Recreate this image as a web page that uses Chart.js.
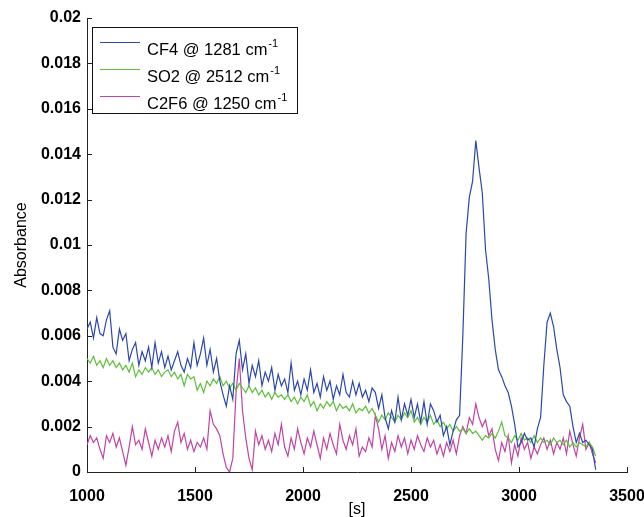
<!DOCTYPE html>
<html>
<head>
<meta charset="utf-8">
<script src="https://cdn.jsdelivr.net/npm/chart.js@4"></script>
<style>
  html, body { margin: 0; padding: 0; background: #fff; }
  #wrap { width: 644px; height: 517px; }
</style>
</head>
<body>
<div id="wrap"><canvas id="absChart" width="644" height="517"></canvas></div>
<script>
// sampling of the traces: start time and step [s]
const t0 = 1000;
const dt = 15;

const seriesNames = ['CF4 @ 1281 cm', 'SO2 @ 2512 cm', 'C2F6 @ 1250 cm'];
const seriesSup = ['-1', '-1', '-1'];

const cf4 = [
  0.0063, 0.0066, 0.0059, 0.0068, 0.0061, 0.0060, 0.0067, 0.0071, 0.0055, 0.0052,
  0.0063, 0.0058, 0.0061, 0.0049, 0.0054, 0.0057, 0.0047, 0.0053, 0.0049, 0.0055,
  0.0046, 0.0057, 0.0048, 0.0053, 0.0046, 0.0051, 0.0045, 0.0049, 0.0053, 0.0047,
  0.0044, 0.0050, 0.0046, 0.0057, 0.0047, 0.0052, 0.0059, 0.0047, 0.0054, 0.0044,
  0.0050, 0.0040, 0.0034, 0.0029, 0.0038, 0.0032, 0.0052, 0.0058, 0.0045, 0.0052,
  0.0039, 0.0047, 0.0042, 0.0049, 0.0038, 0.0044, 0.0040, 0.0046, 0.0036, 0.0043,
  0.0038, 0.0041, 0.0035, 0.0048, 0.0036, 0.0040, 0.0034, 0.0041, 0.0036, 0.0045,
  0.0035, 0.0039, 0.0033, 0.0042, 0.0036, 0.0040, 0.0032, 0.0038, 0.0034, 0.0043,
  0.0035, 0.0033, 0.0040, 0.0034, 0.0039, 0.0033, 0.0036, 0.0031, 0.0037, 0.0035,
  0.0028, 0.0034, 0.0024, 0.0019, 0.0027, 0.0022, 0.0033, 0.0023, 0.0030, 0.0025,
  0.0032, 0.0024, 0.0030, 0.0022, 0.0031, 0.0021, 0.0030, 0.0027, 0.0022, 0.0025,
  0.0016, 0.0020, 0.0012, 0.0018, 0.0023, 0.0025, 0.0060, 0.0105, 0.0121, 0.0128,
  0.0146, 0.0134, 0.0123, 0.0098, 0.0085, 0.0067, 0.0054, 0.0045, 0.0042, 0.0038,
  0.0035, 0.0029, 0.0021, 0.0011, 0.0013, 0.0017, 0.0014, 0.0015, 0.0011, 0.0019,
  0.0024, 0.0047, 0.0066, 0.0070, 0.0064, 0.0054, 0.0046, 0.0034, 0.0031, 0.0029,
  0.0020, 0.0013, 0.0017, 0.0013, 0.0014, 0.0012, 0.0010, 0.0001
];

const so2 = [
  0.0050, 0.0048, 0.0051, 0.0047, 0.0049, 0.0046, 0.0050, 0.0047, 0.0049, 0.0046,
  0.0048, 0.0045, 0.0047, 0.0044, 0.0048, 0.0042, 0.0045, 0.0043, 0.0046, 0.0044,
  0.0046, 0.0043, 0.0045, 0.0042, 0.0044, 0.0045, 0.0042, 0.0044, 0.0041, 0.0043,
  0.0038, 0.0043, 0.0041, 0.0042, 0.0036, 0.0039, 0.0035, 0.0040, 0.0038, 0.0041,
  0.0039, 0.0042, 0.0038, 0.0040, 0.0037, 0.0039, 0.0036, 0.0039, 0.0037, 0.0035,
  0.0038, 0.0035, 0.0037, 0.0034, 0.0036, 0.0033, 0.0035, 0.0032, 0.0035, 0.0033,
  0.0034, 0.0032, 0.0034, 0.0031, 0.0033, 0.0030, 0.0033, 0.0031, 0.0034, 0.0029,
  0.0031, 0.0027, 0.0030, 0.0028, 0.0031, 0.0029, 0.0031, 0.0027, 0.0030, 0.0028,
  0.0029, 0.0027, 0.0030, 0.0026, 0.0028, 0.0027, 0.0029, 0.0026, 0.0028, 0.0025,
  0.0022, 0.0025, 0.0023, 0.0026, 0.0024, 0.0022, 0.0025, 0.0023, 0.0026, 0.0024,
  0.0027, 0.0022, 0.0024, 0.0021, 0.0024, 0.0022, 0.0025, 0.0021, 0.0023, 0.0020,
  0.0022, 0.0019, 0.0021, 0.0018, 0.0020, 0.0018, 0.0019, 0.0017, 0.0019, 0.0017,
  0.0018, 0.0016, 0.0014, 0.0016, 0.0015, 0.0017, 0.0015, 0.0018, 0.0022, 0.0016,
  0.0015, 0.0013, 0.0016, 0.0014, 0.0017, 0.0014, 0.0015, 0.0013, 0.0016, 0.0013,
  0.0015, 0.0013, 0.0014, 0.0012, 0.0015, 0.0013, 0.0014, 0.0012, 0.0014, 0.0011,
  0.0013, 0.0011, 0.0013, 0.0012, 0.0011, 0.0013, 0.0011, 0.0007
];

const c2f6 = [
  0.0012, 0.0016, 0.0013, 0.0015, 0.0010, 0.0006, 0.0016, 0.0013, 0.0017, 0.0011,
  0.0015, 0.0009, 0.0003, 0.0011, 0.0020, 0.0012, 0.0014, 0.0010, 0.0019, 0.0013,
  0.0007, 0.0014, 0.0010, 0.0015, 0.0011, 0.0016, 0.0009, 0.0018, 0.0022, 0.0013,
  0.0017, 0.0010, 0.0014, 0.0009, 0.0013, 0.0011, 0.0015, 0.0010, 0.0027, 0.0021,
  0.0019, 0.0016, 0.0008, 0.0002, 0.0000, 0.0006, 0.0035, 0.0050, 0.0027, 0.0015,
  0.0006, 0.0001, 0.0018, 0.0012, 0.0016, 0.0010, 0.0014, 0.0009, 0.0017, 0.0012,
  0.0021, 0.0011, 0.0007, 0.0015, 0.0010, 0.0019, 0.0013, 0.0008, 0.0015, 0.0011,
  0.0018, 0.0012, 0.0006, 0.0015, 0.0010, 0.0017, 0.0012, 0.0008, 0.0021, 0.0014,
  0.0010, 0.0016, 0.0012, 0.0019, 0.0007, 0.0011, 0.0009, 0.0015, 0.0011, 0.0025,
  0.0019, 0.0010, 0.0016, 0.0006, 0.0013, 0.0009, 0.0016, 0.0011, 0.0015, 0.0008,
  0.0014, 0.0010, 0.0016, 0.0012, 0.0009, 0.0015, 0.0011, 0.0014, 0.0008, 0.0012,
  0.0007, 0.0013, 0.0009, 0.0014, 0.0008, 0.0016, 0.0020, 0.0017, 0.0024, 0.0021,
  0.0030, 0.0024, 0.0020, 0.0023, 0.0016, 0.0019, 0.0010, 0.0005, 0.0013, 0.0009,
  0.0016, 0.0004, 0.0012, 0.0007, 0.0015, 0.0010, 0.0013, 0.0006, 0.0011, 0.0008,
  0.0012, 0.0015, 0.0010, 0.0014, 0.0008, 0.0013, 0.0010, 0.0015, 0.0008, 0.0018,
  0.0012, 0.0007, 0.0015, 0.0021, 0.0010, 0.0013, 0.0008, 0.0004
];

const xTicks = [1000, 1500, 2000, 2500, 3000, 3500];
const xTickLabels = ['1000', '1500', '2000', '2500', '3000', '3500'];
const yTickLabels = ['0', '0.002', '0.004', '0.006', '0.008', '0.01', '0.012', '0.014', '0.016', '0.018', '0.02'];

const colors = ['#2b48aa', '#5cbf3a', '#c043a6'];

function toPoints(arr) {
  return arr.map((v, i) => ({ x: t0 + i * dt, y: v }));
}

const FONT = "'Liberation Sans', Arial, sans-serif";

// matlab-like inward ticks
const inwardTicks = {
  id: 'inwardTicks',
  afterDraw(chart) {
    const ctx = chart.ctx;
    const xs = chart.scales.x, ys = chart.scales.y;
    const area = chart.chartArea;
    ctx.save();
    ctx.strokeStyle = '#222';
    ctx.lineWidth = 1;
    ctx.beginPath();
    xs.ticks.forEach(t => {
      const px = Math.round(xs.getPixelForValue(t.value)) + 0.5;
      ctx.moveTo(px, area.bottom);
      ctx.lineTo(px, area.bottom - 5);
    });
    ys.ticks.forEach(t => {
      const py = Math.round(ys.getPixelForValue(t.value)) + 0.5;
      ctx.moveTo(area.left, py);
      ctx.lineTo(area.left + 5, py);
    });
    ctx.stroke();
    ctx.restore();
  }
};

// legend box with superscripts
const boxLegend = {
  id: 'boxLegend',
  afterDraw(chart) {
    const ctx = chart.ctx;
    const bx = 92.5, by = 27.5, bw = 205, bh = 86;
    ctx.save();
    ctx.fillStyle = '#fff';
    ctx.fillRect(bx, by, bw, bh);
    ctx.strokeStyle = '#111';
    ctx.lineWidth = 1;
    ctx.strokeRect(bx, by, bw, bh);
    chart.data.datasets.forEach((ds, i) => {
      const ly = 42.5 + i * 27;
      ctx.strokeStyle = ds.borderColor;
      ctx.beginPath();
      ctx.moveTo(100, ly);
      ctx.lineTo(140, ly);
      ctx.stroke();
      ctx.fillStyle = '#000';
      ctx.font = '16.5px ' + FONT;
      ctx.textBaseline = 'alphabetic';
      ctx.textAlign = 'left';
      const base = ly + 12;
      ctx.fillText(seriesNames[i], 147, base);
      const w = ctx.measureText(seriesNames[i]).width;
      ctx.font = '11px ' + FONT;
      ctx.fillText(seriesSup[i], 147 + w + 1, base - 8);
    });
    ctx.restore();
  }
};

new Chart(document.getElementById('absChart').getContext('2d'), {
  type: 'line',
  data: {
    datasets: [
      { label: seriesNames[0], data: toPoints(cf4), borderColor: colors[0] },
      { label: seriesNames[1], data: toPoints(so2), borderColor: colors[1] },
      { label: seriesNames[2], data: toPoints(c2f6), borderColor: colors[2] }
    ]
  },
  options: {
    responsive: false,
    animation: false,
    layout: { padding: { top: 18, right: 17, left: 0, bottom: 0 } },
    elements: {
      line: { borderWidth: 1.2, tension: 0 },
      point: { radius: 0 }
    },
    plugins: {
      legend: { display: false },
      tooltip: { enabled: false }
    },
    scales: {
      x: {
        type: 'linear',
        min: 1000,
        max: 3500,
        afterBuildTicks(scale) {
          scale.ticks = xTicks.map(v => ({ value: v }));
        },
        afterFit(scale) {
          scale.height = 45;
          scale.paddingLeft = 0;
          scale.paddingRight = 0;
        },
        grid: { display: false, drawTicks: false },
        border: { display: true, color: '#222', width: 1 },
        ticks: {
          color: '#000',
          padding: 15,
          maxRotation: 0,
          autoSkip: false,
          font: { family: FONT, size: 16, weight: 'bold' },
          callback: (v, i) => xTickLabels[i]
        },
        title: {
          display: true,
          text: '[s]',
          color: '#000',
          padding: { top: 0, bottom: -2 },
          font: { family: FONT, size: 16 }
        }
      },
      y: {
        min: 0,
        max: 0.02,
        afterBuildTicks(scale) {
          scale.ticks = yTickLabels.map((l, i) => ({ value: i * 0.002 }));
        },
        afterFit(scale) {
          scale.width = 87;
          scale.paddingTop = 0;
          scale.paddingBottom = 0;
        },
        grid: { display: false, drawTicks: false },
        border: { display: true, color: '#222', width: 1 },
        ticks: {
          color: '#000',
          padding: 6,
          autoSkip: false,
          font: { family: FONT, size: 16, weight: 'bold' },
          callback: (v, i) => yTickLabels[i]
        },
        title: {
          display: true,
          text: 'Absorbance',
          color: '#000',
          padding: { top: 12, bottom: 0 },
          font: { family: FONT, size: 16 }
        }
      }
    }
  },
  plugins: [inwardTicks, boxLegend]
});
</script>
</body>
</html>
